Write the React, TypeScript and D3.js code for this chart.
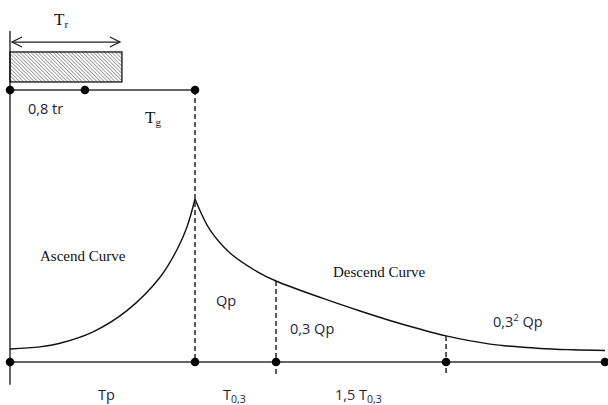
import * as d3 from 'd3'

// hydrograph shape (t in Tp units, q in Qp units)
const ascendT = [0, 0.162, 0.27, 0.449, 0.632, 0.811, 0.903, 0.957, 1]
const ascendQ = [0.08, 0.093, 0.115, 0.185, 0.315, 0.52, 0.69, 0.83, 1]
const descendT = [1, 1.081, 1.189, 1.335, 1.438, 1.692, 1.892, 2.108, 2.357, 2.595, 2.865, 3.043, 3.216]
const descendQ = [1, 0.81, 0.669, 0.555, 0.497, 0.39, 0.313, 0.236, 0.16, 0.11, 0.083, 0.075, 0.071]

// points on the time axis: origin, Tp, Tp + T0,3, Tp + 2,5 T0,3, end
const axisTicks = [0, 1, 1.438, 2.357, 3.216]
// rain bar line: origin, 0,8 tr, Tg
const rainTicks = [0, 0.405, 1]
const rainDuration = 0.605

// vertical levels of the upper part, in the same q units
const levelRainLine = 1.669
const levelRainBottom = 1.718
const levelRainTop = 1.902
const levelArrow = 1.963
const levelAxisTop = 2.03
const levelAxisBottom = -0.14
const levelDashBottom = -0.085

const W = 608
const H = 405

const x = d3.scaleLinear().domain([0, 3.216]).range([10, 605])
const y = d3.scaleLinear().domain([0, 1]).range([362, 199])

const sans = "'Open Sans', 'Noto Sans', sans-serif"
const serif = "'Liberation Serif', 'Times New Roman', serif"
const ink = '#1e1f3a'

export default function App() {
  const line = d3.line<[number, number]>()
    .x(d => x(d[0]))
    .y(d => y(d[1]))
    .curve(d3.curveCatmullRom.alpha(0.5))

  const ascend = line(ascendT.map((t, i) => [t, ascendQ[i]]))!
  const descend = line(descendT.map((t, i) => [t, descendQ[i]]))!

  const qAt = (t: number) => descendQ[descendT.indexOf(t)]

  const ay = y(levelArrow)
  const ax0 = x(0) + 2
  const ax1 = x(rainDuration) - 2

  return (
    <svg width={W} height={H} style={{ position: 'absolute', left: 0, top: 0, background: '#fff' }}>
      <defs>
        <pattern id="hatch" width={2.6} height={2.6} patternUnits="userSpaceOnUse" patternTransform="rotate(-45)">
          <line x1={0} y1={0} x2={0} y2={2.6} stroke="#333" strokeWidth={0.9} />
        </pattern>
      </defs>

      {/* vertical axis */}
      <line x1={x(0)} x2={x(0)} y1={y(levelAxisTop)} y2={y(levelAxisBottom)} stroke="#333" strokeWidth={1.5} />

      {/* rain bar */}
      <rect x={x(0)} y={y(levelRainTop)} width={x(rainDuration) - x(0)} height={y(levelRainBottom) - y(levelRainTop)}
        fill="url(#hatch)" stroke="#111" strokeWidth={1.3} />
      <line x1={ax0} x2={ax1} y1={ay} y2={ay} stroke="#222" strokeWidth={1.3} />
      <path d={`M${ax0 + 10},${ay - 5}L${ax0},${ay}L${ax0 + 10},${ay + 5}`} fill="none" stroke="#222" strokeWidth={1.3} />
      <path d={`M${ax1 - 10},${ay - 5}L${ax1},${ay}L${ax1 - 10},${ay + 5}`} fill="none" stroke="#222" strokeWidth={1.3} />

      <line x1={x(rainTicks[0])} x2={x(rainTicks[rainTicks.length - 1])} y1={y(levelRainLine)} y2={y(levelRainLine)}
        stroke="#333" strokeWidth={1.5} />

      {/* dashed guides */}
      <line x1={x(1)} x2={x(1)} y1={y(levelRainLine)} y2={y(0)} stroke="#4a4a4a" strokeWidth={1.8} strokeDasharray="5,3" />
      {[axisTicks[2], axisTicks[3]].map(t => (
        <line key={t} x1={x(t)} x2={x(t)} y1={y(qAt(t))} y2={y(levelDashBottom)} stroke="#4a4a4a" strokeWidth={1.8} strokeDasharray="5,3" />
      ))}

      {/* time axis */}
      <line x1={x(axisTicks[0])} x2={x(axisTicks[axisTicks.length - 1])} y1={y(0)} y2={y(0)} stroke="#333" strokeWidth={1.5} />

      {/* curves */}
      <path d={ascend} fill="none" stroke="#111" strokeWidth={1.4} />
      <path d={descend} fill="none" stroke="#111" strokeWidth={1.4} />

      {/* dots */}
      {rainTicks.map(t => <circle key={'r' + t} cx={x(t)} cy={y(levelRainLine)} r={4.3} fill="#000" />)}
      {axisTicks.map(t => <circle key={'a' + t} cx={x(t)} cy={y(0)} r={4.3} fill="#000" />)}

      {/* serif labels */}
      <text x={54} y={25} fontFamily={serif} fontSize={17} fill="#111">T<tspan fontSize={11} dy={3}>r</tspan></text>
      <text x={145} y={123} fontFamily={serif} fontSize={17} fill="#111">T<tspan fontSize={11} dy={3}>g</tspan></text>
      <text x={40} y={261} fontFamily={serif} fontSize={15} fill="#111">Ascend Curve</text>
      <text x={333} y={277} fontFamily={serif} fontSize={15} fill="#111">Descend Curve</text>

      {/* sans labels */}
      <text x={28} y={114} fontFamily={sans} fontSize={14.5} fill={ink}>0,8 tr</text>
      <text x={216} y={306} fontFamily={sans} fontSize={14.5} fill={ink}>Qp</text>
      <text x={290} y={334} fontFamily={sans} fontSize={14.5} fill={ink}>0,3 Qp</text>
      <text x={493} y={327} fontFamily={sans} fontSize={14.5} fill={ink}>0,3<tspan fontSize={9.5} dy={-6}>2</tspan><tspan dy={6}> Qp</tspan></text>
      <text x={98} y={400} fontFamily={sans} fontSize={14.5} fill={ink}>Tp</text>
      <text x={223} y={400} fontFamily={sans} fontSize={14.5} fill={ink}>T<tspan fontSize={10.5} dy={3}>0,3</tspan></text>
      <text x={335} y={400} fontFamily={sans} fontSize={14.5} fill={ink}><tspan fill="#4a1c24">1,5</tspan> T<tspan fontSize={10.5} dy={3}>0,3</tspan></text>
    </svg>
  )
}
